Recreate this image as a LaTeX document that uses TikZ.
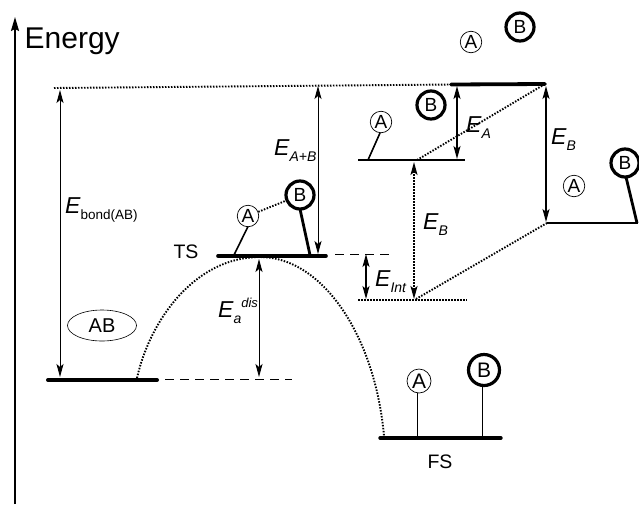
\documentclass[tikz,border=0pt]{standalone}
\usepackage{fontspec}
\setmainfont{Liberation Sans}
\usetikzlibrary{arrows.meta,shapes.geometric}
\tikzset{
 lev/.style={line width=#1,line cap=round},
 dim/.style={line width=0.9pt,{Stealth[length=13pt,width=7pt,inset=3pt]}-{Stealth[length=13pt,width=7pt,inset=3pt]}},
 dots/.style={line width=1.9pt,dash pattern=on 1.5pt off 1.5pt},
 dash2/.style={line width=0.7pt,dash pattern=on 9pt off 6pt},
 atomA/.style={circle,draw,line width=0.7pt,minimum size=21.5pt,inner sep=0pt,font=\fontsize{19}{19}\selectfont},
 atomB/.style={circle,draw,line width=3.2pt,minimum size=28pt,inner sep=0pt,font=\fontsize{19}{19}\selectfont},
 lab/.style={inner sep=0pt,anchor=base west,font=\fontsize{23}{23}\selectfont\itshape},
 txt/.style={inner sep=0pt,font=\fontsize{19.5}{19.5}\selectfont}
}
\newcommand{\Esub}[1]{E\raisebox{-6.5pt}{\fontsize{14}{14}\selectfont #1}}
\begin{document}
\begin{tikzpicture}[x=1pt,y=-1pt]
\useasboundingbox (0,0) rectangle (639,504);
\fill[white] (0,0) rectangle (639,504);
% coordinates
\coordinate (axb) at (15,504); \coordinate (axt) at (15,17);
\coordinate (abL) at (48,380); \coordinate (abR) at (157,380);
\coordinate (tsL) at (218,256); \coordinate (tsR) at (326,256);
\coordinate (fsL) at (380,438); \coordinate (fsR) at (501,438);
\coordinate (topL) at (451,84.5); \coordinate (topR) at (545,84);
\coordinate (aL) at (358,160); \coordinate (aR) at (465,160);
\coordinate (bL) at (547,223); \coordinate (bR) at (638,223);
\coordinate (intL) at (358,300); \coordinate (intR) at (467,300);
\coordinate (refL) at (54,88);
% axis
\draw[line width=1.8pt,-{Stealth[length=14pt,width=8pt,inset=2pt]}] (axb) -- (axt);
\node[inner sep=0pt,anchor=base west,font=\fontsize{30}{30}\selectfont] (en) at (24.5,48) {Energy};
% levels
\draw[lev=4pt] (abL) -- (abR);
\draw[lev=3.6pt] (tsL) -- (tsR);
\draw[lev=3.4pt] (fsL) -- (fsR);
\draw[lev=3.8pt] (topL) -- (topR);
\draw[line width=2pt] (aL) -- (aR);
\draw[line width=2pt] (bL) -- (bR);
% dotted guide lines
\draw[dots] (refL) -- (topL);
\draw[dots] (intL) -- (intR);
\draw[dots] (417,160) -- (topR);
\draw[dots] (416,299) -- (bL);
% dashed guide lines
\draw[dash2] (165,379) -- (292,379);
\draw[dash2] (335,254) -- (390,254);
% reaction curve
\coordinate (cs) at (137,378); \coordinate (cm) at (260,257); \coordinate (ce) at (384,436);
\draw[dots] (cs) .. controls (150,320) and (195,257) .. (cm) .. controls (322,257) and (375,335) .. (ce);
% dimension arrows
\draw[dim] (60,90) -- (60,377);
\draw[dim] (318,86) -- (318,254);
\draw[dim] (259,259) -- (259,377);
\draw[dim,line width=1.2pt] (366,254) -- (366,299);
\draw[dim,line width=1.9pt,dash pattern=on 1.5pt off 1.5pt] (414,162) -- (414,299);
\draw[dim,line width=1.6pt] (457,86) -- (457,159);
\draw[dim,line width=1.3pt] (546,86) -- (546,222);
% atoms
\node[atomA] (a1) at (471,42) {A};
\node[atomB] (b1) at (520,27) {B};
\node[atomA] (a2) at (381,122) {A};
\node[atomB] (b2) at (431,105) {B};
\node[atomA] (a3) at (574,186) {A};
\node[atomB] (b3) at (625,163) {B};
\node[atomA] (a4) at (248,216) {A};
\node[atomB] (b4) at (300,195) {B};
\node[atomA,minimum size=24pt,font=\fontsize{21}{21}\selectfont] (a5) at (419,381) {A};
\node[atomB,minimum size=31pt,font=\fontsize{21}{21}\selectfont] (b5) at (484,370) {B};
% bonds
\coordinate (a2f) at (368,160); \coordinate (b3f) at (637,223);
\coordinate (a4f) at (234,255); \coordinate (b4f) at (310,255);
\coordinate (a5f) at (417,437); \coordinate (b5f) at (482,437);
\draw[line width=1.6pt] (a2) ++(-1,11) -- (a2f);
\draw[line width=2.8pt] (b3) ++(1,14) -- (b3f);
\draw[line width=1.6pt] (a4) ++(0,10.5) -- (a4f);
\draw[line width=2.8pt] (b4) ++(0,14) -- (b4f);
\draw[line width=0.9pt] (a5) ++(-2,12) -- (a5f);
\draw[line width=0.9pt] (b5) ++(-2,15) -- (b5f);
\draw[dots] (a4) -- (b4);
% labels
\node[draw,ellipse,line width=0.6pt,minimum width=69pt,minimum height=31pt,inner sep=0pt,font=\fontsize{20}{20}\selectfont] (ab) at (102,325.5) {AB};
\node[txt] (ts) at (186,252) {TS};
\node[txt] (fs) at (440,462) {FS};
\node[lab] (l1) at (65,213) {E\raisebox{-6pt}{\fontsize{13.5}{13.5}\selectfont\upshape bond(AB)}};
\node[lab] (l2) at (274,155) {\Esub{A+B}};
\node[lab] (l3) at (466,132) {\Esub{A}};
\node[lab] (l4) at (551,144) {\Esub{B}};
\node[lab] (l5) at (423,229) {\Esub{B}};
\node[lab] (l6) at (375,286) {\Esub{Int}};
\node[lab] (l7) at (218,317) {E\raisebox{-6pt}{\fontsize{14}{14}\selectfont a}\raisebox{10pt}{\fontsize{13}{13}\selectfont dis}};
\end{tikzpicture}
\end{document}
